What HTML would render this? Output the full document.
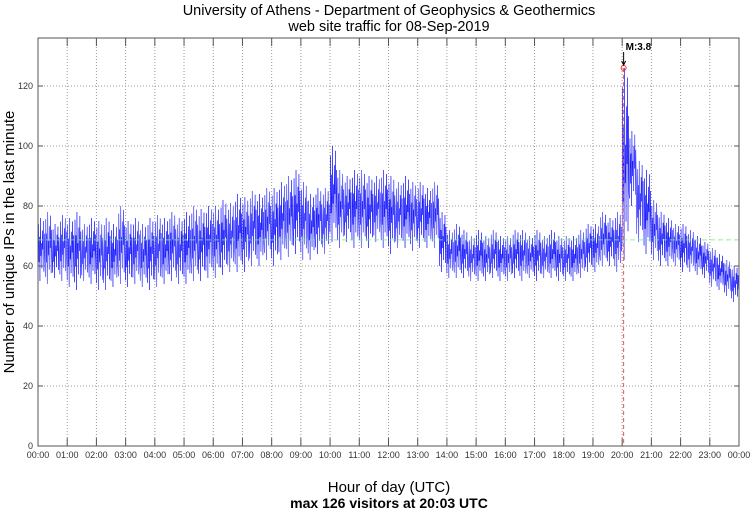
<!DOCTYPE html>
<html><head><meta charset="utf-8"><style>
body{margin:0;background:#fff;}
svg{display:block;font-family:"Liberation Sans",sans-serif;}
</style></head><body>
<svg id="chart" width="750" height="511">
<text x="389" y="15" text-anchor="middle" font-size="14.5">University of Athens - Department of Geophysics &amp; Geothermics</text>
<text x="389" y="31" text-anchor="middle" font-size="14.5">web site traffic for 08-Sep-2019</text>
<text transform="translate(14,242) rotate(-90)" text-anchor="middle" font-size="15">Number of unique IPs in the last minute</text>
<text x="389" y="492" text-anchor="middle" font-size="15">Hour of day (UTC)</text>
<text x="389" y="508" text-anchor="middle" font-size="14" font-weight="bold">max 126 visitors at 20:03 UTC</text>
<g id="grid"></g><g id="series"></g><g id="axes"></g>
</svg>
<script>
const yTicks=[0,20,40,60,80,100,120];
const hourLabels=["00:00","01:00","02:00","03:00","04:00","05:00","06:00","07:00","08:00","09:00","10:00","11:00","12:00","13:00","14:00","15:00","16:00","17:00","18:00","19:00","20:00","21:00","22:00","23:00","00:00"];
const binLow=[55,54,56,55,53,52,55,54,52,52,53,54,53,54,53,52,53,54,55,54,54,55,55,56,56,57,58,58,58,60,60,62,60,62,63,64,62,62,64,64,68,66,68,66,66,66,68,66,64,66,66,65,66,66,66,58,56,56,56,55,55,55,56,55,55,56,55,56,55,56,56,55,55,55,56,58,58,60,60,58,62,80,68,64,62,60,60,60,58,58,57,56,53,52,50,48];
const binHigh=[76,78,74,77,76,78,74,76,75,76,74,80,75,76,74,76,77,76,78,76,78,80,79,80,80,82,81,84,83,85,84,86,86,88,90,92,88,84,86,86,100,92,90,92,92,90,90,92,90,88,90,88,88,86,88,78,72,74,72,70,72,70,72,70,70,72,72,70,72,70,72,70,70,70,72,74,74,78,76,78,126,105,95,92,82,78,76,74,74,72,70,68,66,64,62,60];
const meanValue=68.7;
const peakMinute=20*60+3, peakValue=126;
const X0=38,X1=739,Y0=446,YT=38;
const xs=m=>X0+(X1-X0)*m/1440;
const ys=v=>Y0-(Y0-86)*v/120;
const NS="http://www.w3.org/2000/svg";
function mk(tag,parent,attrs){const e=document.createElementNS(NS,tag);for(const k in attrs)e.setAttribute(k,attrs[k]);parent.appendChild(e);return e;}
const grid=document.getElementById('grid'),axes=document.getElementById('axes'),ser=document.getElementById('series');
yTicks.forEach(v=>{
 if(v>0){const l=mk('line',grid,{x1:X0,x2:X1,y1:ys(v),y2:ys(v),stroke:'#999','stroke-dasharray':'1,2','stroke-width':1});
 
 }
 const t=mk('text',axes,{x:X0-5,y:ys(v)+3,'text-anchor':'end','font-size':9,fill:'#333'});t.textContent=v;
 
 
 mk('line',axes,{x1:X0,x2:X0+5,y1:ys(v),y2:ys(v),stroke:'#555'});
 mk('line',axes,{x1:X1-5,x2:X1,y1:ys(v),y2:ys(v),stroke:'#555'});
});
hourLabels.forEach((h,i)=>{
 const x=xs(i*60);
 if(i>0&&i<24){const l=mk('line',grid,{x1:x,x2:x,y1:YT,y2:Y0,stroke:'#999','stroke-dasharray':'1,2'});
 
 }
 mk('line',axes,{x1:x,x2:x,y1:Y0,y2:Y0-8,stroke:'#555'});
 mk('line',axes,{x1:x,x2:x,y1:YT,y2:YT+8,stroke:'#555'});
 const t=mk('text',axes,{x:x,y:Y0+12,'text-anchor':'middle','font-size':9,fill:'#333'});t.textContent=h;
 
 
});
const frame=mk('rect',axes,{x:X0,y:YT,width:X1-X0,height:Y0-YT,fill:'none',stroke:'#555'});


const pat=[0.1,0.9,0.3,0.7,0.0,1.0,0.4,0.6,0.2,0.8,0.5,0.95,0.15,0.75,0.35];
let d='';
binLow.forEach((lo,b)=>{const hi=binHigh[b];
 for(let k=0;k<15;k++){const m=b*15+k;const v=lo+(hi-lo)*pat[k];d+=(m?'L':'M')+xs(m).toFixed(2)+','+ys(v).toFixed(2);}
});
const path=mk('path',ser,{d:d,fill:'none',stroke:'#00f','stroke-width':0.45});


const ml=mk('line',ser,{x1:X0,x2:X1,y1:ys(meanValue),y2:ys(meanValue),stroke:'#7e7','stroke-dasharray':'5,3','stroke-width':1,opacity:0.8});


const px=xs(peakMinute),py=ys(peakValue);
const pl=mk('line',ser,{x1:px,x2:px,y1:py,y2:Y0,stroke:'#e55','stroke-dasharray':'4,3'});


const pc=mk('circle',ser,{cx:px,cy:py,r:2.5,fill:'none',stroke:'#e33'});


mk('line',ser,{x1:px,x2:px,y1:py-16,y2:py-3,stroke:'#000'});
mk('path',ser,{d:`M${px-2},${py-7}L${px},${py-3}L${px+2},${py-7}`,fill:'none',stroke:'#000'});
const pt=mk('text',ser,{x:px+2,y:py-18,'font-size':10,'font-weight':'bold'});pt.textContent='M:3.8';


</script>
</body></html>
